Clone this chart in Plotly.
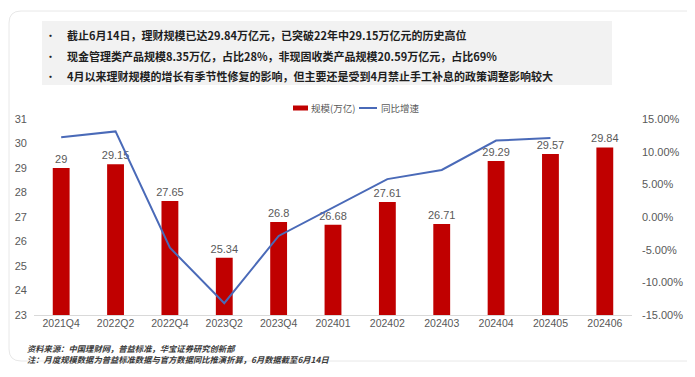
import plotly.graph_objects as go

categories = ["2021Q4", "2022Q2", "2022Q4", "2023Q2", "2023Q4", "202401",
              "202402", "202403", "202404", "202405", "202406"]
scale_values = [29, 29.15, 27.65, 25.34, 26.8, 26.68, 27.61, 26.71, 29.29, 29.57, 29.84]
yoy_values = [12.2, 13.1, -4.7, -13.2, -2.9, 1.5, 5.8, 7.2, 11.7, 12.1, None]
left_ticks = [23, 24, 25, 26, 27, 28, 29, 30, 31]
right_ticks = [-15, -10, -5, 0, 5, 10, 15]
series_names = ["规模(万亿)", "同比增速"]
bullets = [
    "截止6月14日，理财规模已达29.84万亿元，已突破22年中29.15万亿元的历史高位",
    "现金管理类产品规模8.35万亿，占比28%，非现固收类产品规模20.59万亿元，占比69%",
    "4月以来理财规模的增长有季节性修复的影响，但主要还是受到4月禁止手工补息的政策调整影响较大",
]
notes = [
    "资料来源：中国理财网，普益标准，华宝证券研究创新部",
    "注：月度规模数据为普益标准数据与官方数据同比推演折算，6月数据截至6月14日",
]

W, H = 695, 377
ML, MR, MT, MB = 26, 71, 111, 70
PW, PH = W - ML - MR, H - MT - MB
BAR_COLOR = "#C00000"
LINE_COLOR = "#4A6AB8"


def px(x):
    return (x - ML) / PW


def py(y):
    return (H - MB - y) / PH


FONT = "Liberation Sans, Noto Sans CJK SC, sans-serif"
CJK = "Noto Sans CJK SC, sans-serif"
GRAY = "#595959"

fig = go.Figure()
fig.add_trace(go.Bar(
    x=categories, y=scale_values, name=series_names[0],
    marker=dict(color=BAR_COLOR, line=dict(width=0)),
    text=[f"{v:g}" for v in scale_values], textposition="outside",
    textfont=dict(size=11, color=GRAY, family=FONT), cliponaxis=False,
    constraintext="none", width=0.31,
))
fig.add_trace(go.Scatter(
    x=categories, y=yoy_values, name=series_names[1], yaxis="y2",
    mode="lines", line=dict(color=LINE_COLOR, width=2),
))

shapes = []
# card outline with rounded corners
x0, x1, y0, y1, r = px(1), px(693), py(353), py(3), 12
rx, ry = r / PW, r / PH
path = (f"M {x0+rx},{y1} L {x1-rx},{y1} Q {x1},{y1} {x1},{y1-ry} "
        f"L {x1},{y0+ry} Q {x1},{y0} {x1-rx},{y0} L {x0+rx},{y0} "
        f"Q {x0},{y0} {x0},{y0+ry} L {x0},{y1-ry} Q {x0},{y1} {x0+rx},{y1} Z")
shapes.append(dict(type="path", xref="paper", yref="paper", path=path,
                   line=dict(color="#E8E8E8", width=1), fillcolor="rgba(0,0,0,0)", layer="below"))
# gray text box
shapes.append(dict(type="rect", xref="paper", yref="paper",
                   x0=px(34), x1=px(604), y0=py(77), y1=py(13),
                   fillcolor="#F2F2F2", line=dict(width=0), layer="below"))
# legend swatches
shapes.append(dict(type="rect", xref="paper", yref="paper",
                   x0=px(285), x1=px(300), y0=py(102.5), y1=py(97.5),
                   fillcolor=BAR_COLOR, line=dict(width=0)))
shapes.append(dict(type="line", xref="paper", yref="paper",
                   x0=px(351), x1=px(369), y0=py(100), y1=py(100),
                   line=dict(color=LINE_COLOR, width=2)))

annotations = []
for i, t in enumerate(bullets):
    yy = py(27 + i * 20.7)
    annotations.append(dict(xref="paper", yref="paper", x=px(42), y=yy, text="•",
                            showarrow=False, xanchor="center", yanchor="middle",
                            font=dict(size=11, color="#222222", family=CJK)))
    annotations.append(dict(xref="paper", yref="paper", x=px(57), y=yy, text=f"<b>{t}</b>",
                            showarrow=False, xanchor="left", yanchor="middle",
                            font=dict(size=11, color="#1E1E1E", family=CJK)))
for i, t in enumerate(notes):
    annotations.append(dict(xref="paper", yref="paper", x=px(18), y=py(340 + i * 11), text=f"<b><i>{t}</i></b>",
                            showarrow=False, xanchor="left", yanchor="middle", borderpad=0,
                            font=dict(size=8.3, color="#3A3A3A", family=CJK)))
# legend labels
annotations.append(dict(xref="paper", yref="paper", x=px(302), y=py(100), text=series_names[0],
                        showarrow=False, xanchor="left", yanchor="middle", borderpad=0,
                        font=dict(size=9.5, color=GRAY, family=CJK)))
annotations.append(dict(xref="paper", yref="paper", x=px(372), y=py(100), text=series_names[1],
                        showarrow=False, xanchor="left", yanchor="middle", borderpad=0,
                        font=dict(size=9.5, color=GRAY, family=CJK)))

fig.update_layout(
    width=W, height=H,
    margin=dict(l=ML, r=MR, t=MT, b=MB, pad=0),
    paper_bgcolor="white", plot_bgcolor="white",
    font=dict(family=FONT, color=GRAY, size=10.5),
    bargap=0.69,
    showlegend=False,
    xaxis=dict(type="category", range=[-0.5, 10.5], showgrid=False, automargin=False,
               showline=True, linecolor="#D9D9D9", linewidth=1, ticks="",
               ticklabelstandoff=-2,
               tickfont=dict(size=10.5, color=GRAY, family=FONT)),
    yaxis=dict(range=[23, 31], tickvals=left_ticks, showgrid=False, zeroline=False,
               showline=False, ticks="", ticklabelstandoff=6, automargin=False,
               tickfont=dict(size=11, color=GRAY, family=FONT)),
    yaxis2=dict(range=[-15, 15], tickvals=right_ticks,
                ticktext=[f"{v:.2f}%" for v in right_ticks],
                overlaying="y", side="right", showgrid=False, zeroline=False,
                showline=False, ticks="", ticklabelstandoff=9, automargin=False,
                tickfont=dict(size=11, color=GRAY, family=FONT)),
    shapes=shapes, annotations=annotations,
)

fig.write_html("out.html")
